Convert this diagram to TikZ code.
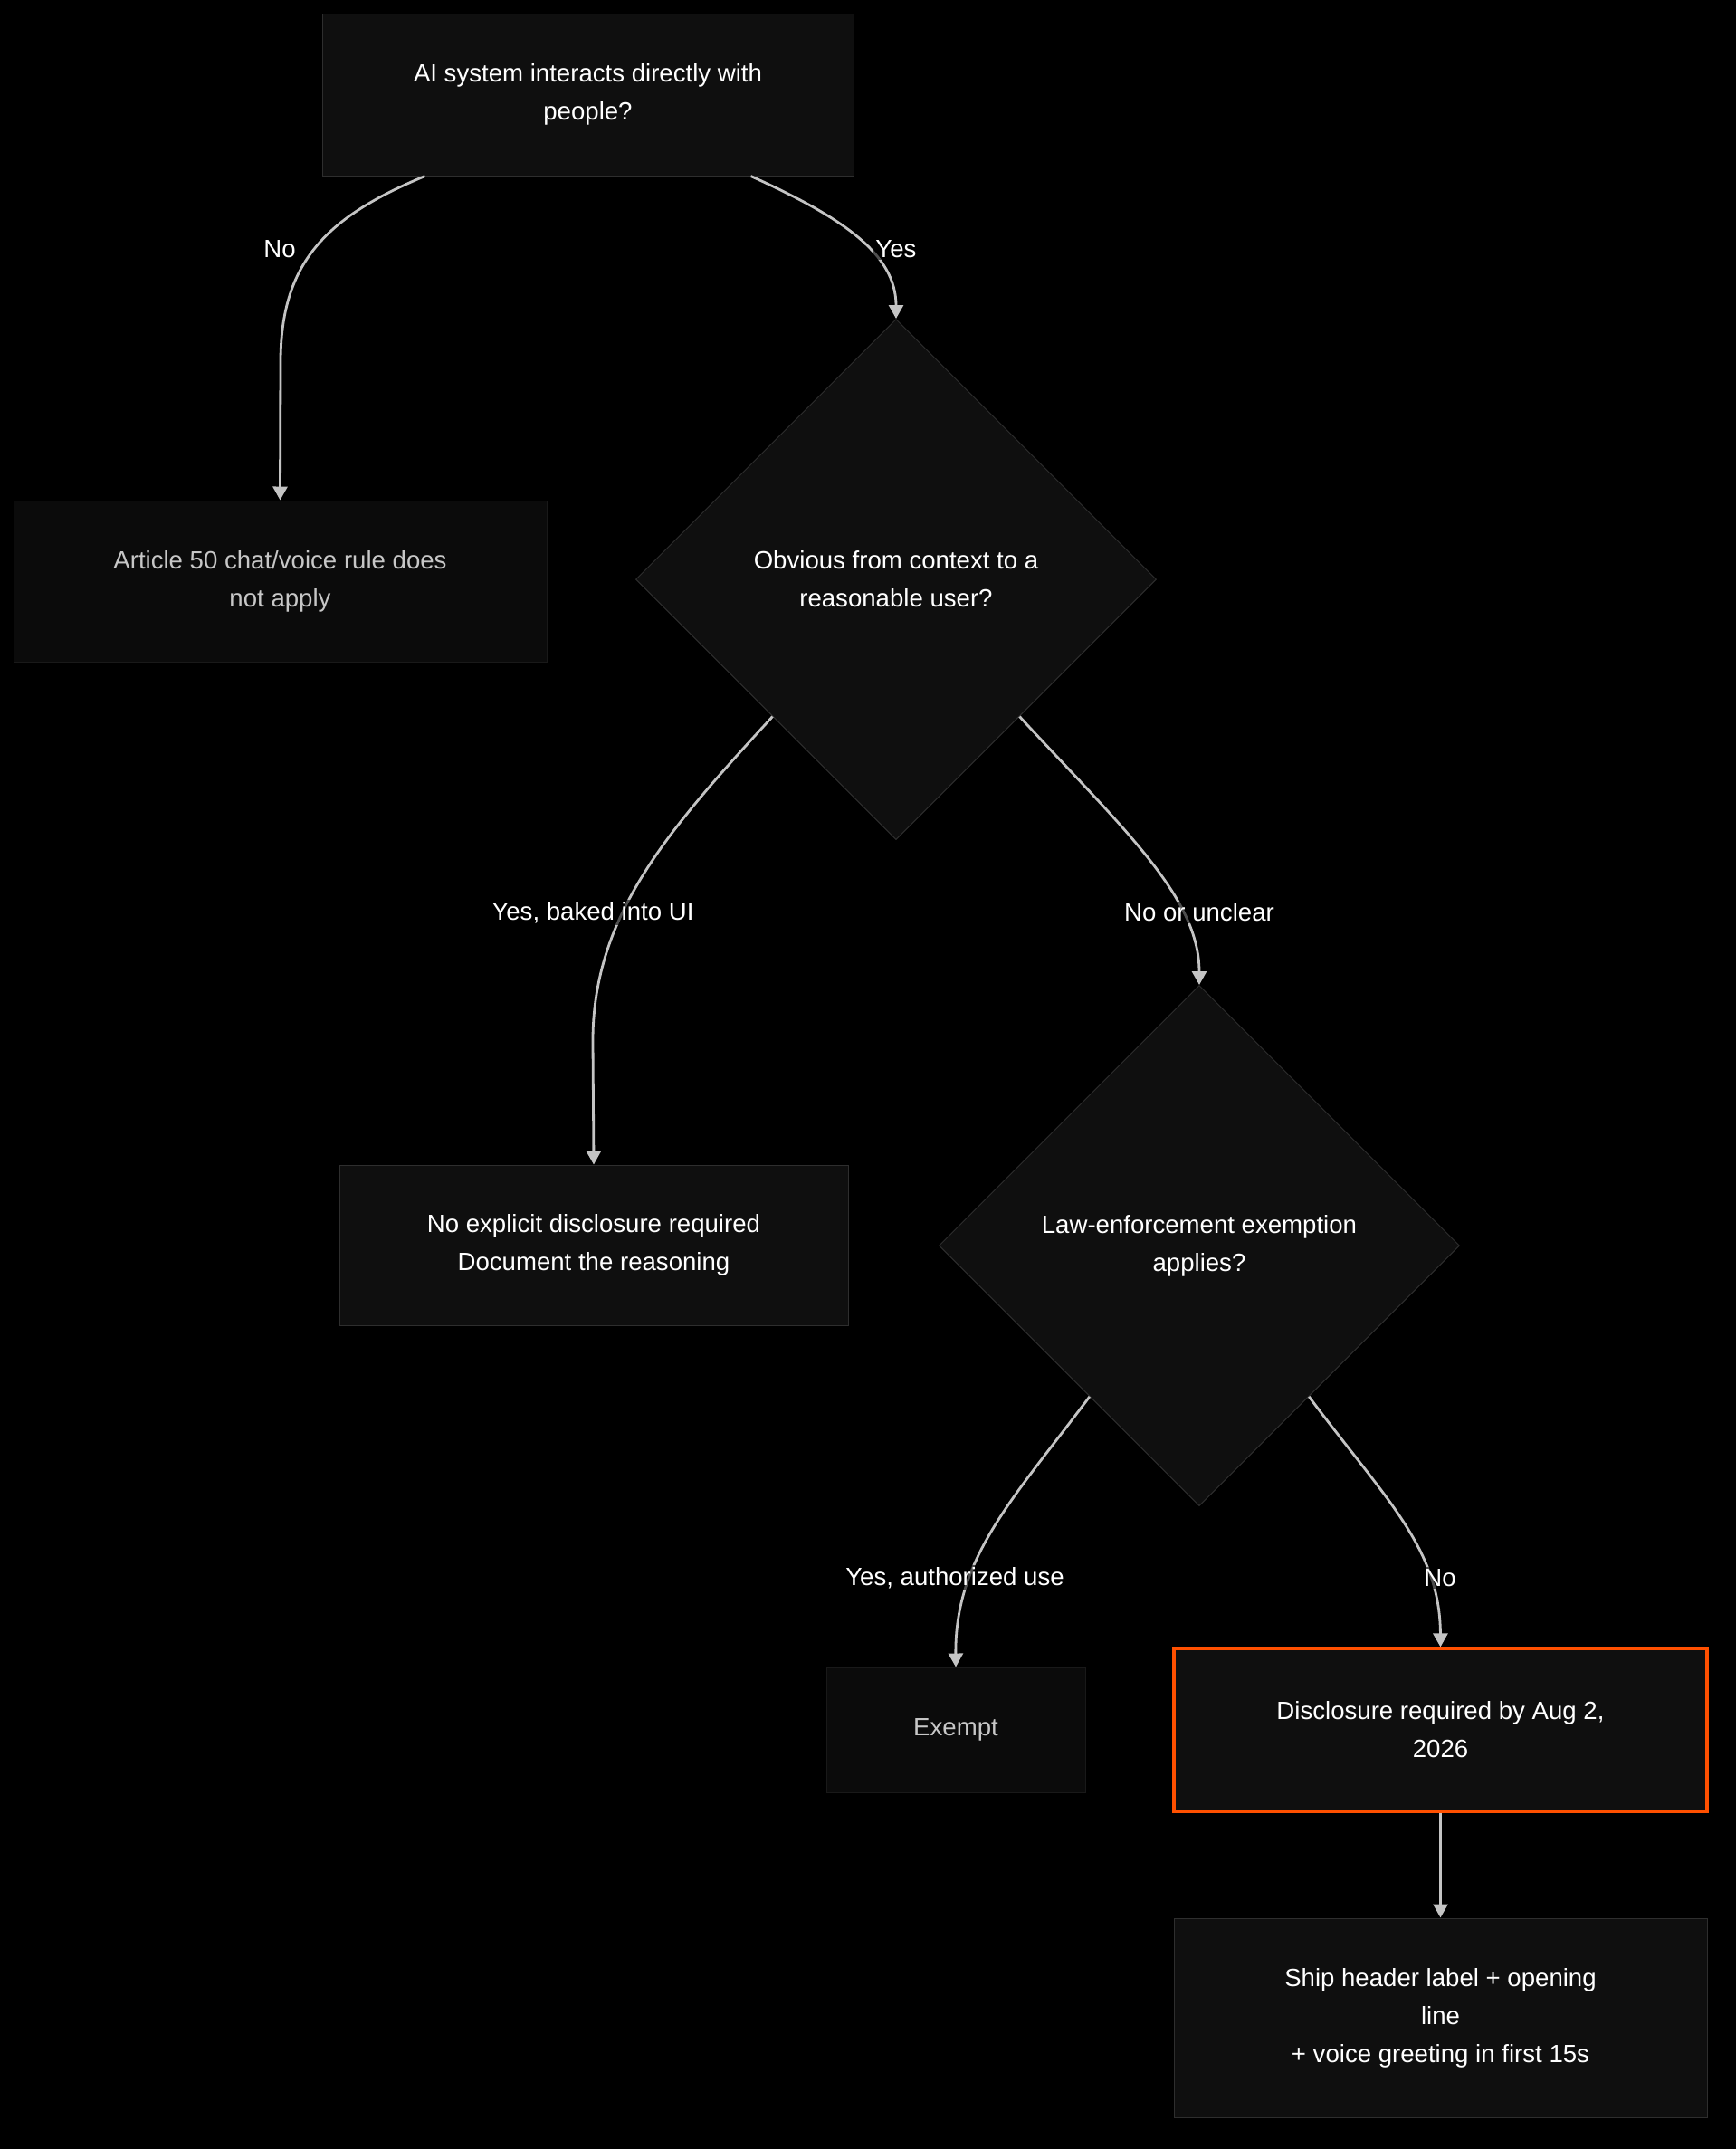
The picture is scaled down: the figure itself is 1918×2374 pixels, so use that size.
\documentclass[tikz,border=0pt]{standalone}
\usepackage{fontspec}
\setmainfont{Liberation Sans}
\usepackage{tikz}
\usetikzlibrary{arrows.meta,shapes.geometric}
\definecolor{flow-bg}{HTML}{000000}
\definecolor{flow-fill}{HTML}{0F0F0F}
\definecolor{flow-dim}{HTML}{0B0B0B}
\definecolor{flow-line}{HTML}{2E2E2E}
\definecolor{flow-edge}{HTML}{C4C4C4}
\definecolor{flow-accent}{HTML}{FF5000}
\tikzset{
  flow-text/.style={text=white, align=center, font=\fontsize{13.8pt}{21pt}\selectfont},
  flow-box/.style={flow-text, draw=flow-line, fill=flow-fill, line width=0.5pt, inner sep=0pt},
  flow-muted/.style={flow-box, draw=flow-dim!60!flow-line, fill=flow-dim, text=black!22},
  flow-alert/.style={flow-box, draw=flow-accent, line width=1.6pt},
  flow-decision/.style={flow-text, diamond, aspect=1, draw=flow-line, fill=flow-fill,
    line width=0.5pt, inner sep=0pt, minimum size=287.5pt},
  flow-arrow/.style={draw=flow-edge, line width=1.4pt, -{Triangle[length=7.5pt, width=8pt, fill=flow-edge]}},
  flow-label/.style={flow-text, fill=flow-bg, fill opacity=0.6, text opacity=1, inner sep=1pt}
}

\begin{document}
\begin{tikzpicture}[x=0.5pt, y=-0.5pt]
  % canvas
  \fill[flow-bg] (0,0) rectangle (1918,2374);

  % Question: interaction
  \node[flow-box, minimum width=293.5pt, minimum height=89.5pt] (interact) at (649.5,104.5)
    {AI system interacts directly with\\people?};

  % Not in scope
  \node[flow-muted, minimum width=294.5pt, minimum height=89pt] (noapply) at (309.5,642)
    {Article 50 chat/voice rule does\\not apply};

  % Question: obvious from context
  \node[flow-decision] (obvious) at (990,640) {Obvious from context to a\\reasonable user?};

  % Baked into UI
  \node[flow-box, minimum width=281pt, minimum height=88.5pt] (implicit) at (656,1375.5)
    {No explicit disclosure required\\Document the reasoning};

  % Question: exemption
  \node[flow-decision] (exemption) at (1325,1376) {Law-enforcement exemption\\applies?};

  % Outcomes
  \node[flow-muted, minimum width=143pt, minimum height=69pt] (exempt) at (1056,1911) {Exempt};
  \node[flow-alert, minimum width=294.5pt, minimum height=90pt] (deadline) at (1591.5,1911)
    {Disclosure required by Aug 2,\\2026};
  \node[flow-box, minimum width=294.5pt, minimum height=110pt] (ship) at (1591.5,2229)
    {Ship header label + opening\\line\\+ voice greeting in first 15s};

  % Connectors
  \draw[flow-arrow] ([xshift=-90pt]interact.south) .. controls (360,240) and (310,290) .. (310,400) -- (noapply.north);
  \draw[flow-arrow] ([xshift=90pt]interact.south) .. controls (930,240) and (990,280) .. (obvious.north);
  \draw[flow-arrow] (obvious.-132) .. controls (740,915) and (655,1010) .. (655,1150) -- (implicit.north);
  \draw[flow-arrow] (obvious.-48) .. controls (1240,915) and (1325,990) .. (exemption.north);
  \draw[flow-arrow] (exemption.-126) .. controls (1120,1655) and (1055,1720) .. (exempt.north);
  \draw[flow-arrow] (exemption.-54) .. controls (1530,1655) and (1591,1710) .. (deadline.north);
  \draw[flow-arrow] (deadline.south) -- (ship.north);

  % Edge labels
  \node[flow-label] (lbl-no) at (309,275) {No};
  \node[flow-label] (lbl-yes) at (990,275) {Yes};
  \node[flow-label] (lbl-ui) at (655,1008) {Yes, baked into UI};
  \node[flow-label] (lbl-unclear) at (1325,1008) {No or unclear};
  \node[flow-label] (lbl-auth) at (1055,1743) {Yes, authorized use};
  \node[flow-label] (lbl-no2) at (1591,1743) {No};
\end{tikzpicture}
\end{document}
